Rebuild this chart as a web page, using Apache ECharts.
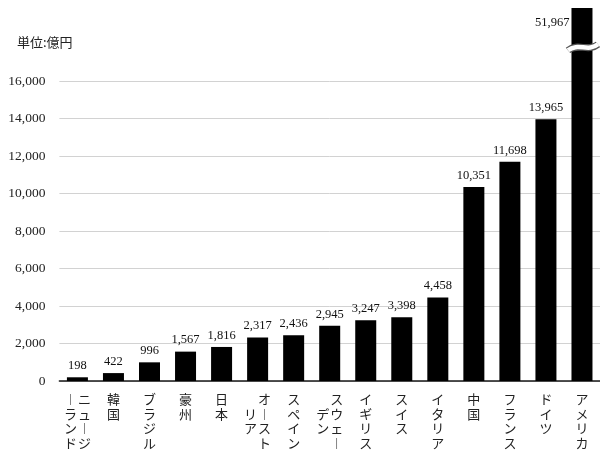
<!DOCTYPE html>
<html><head><meta charset="utf-8">
<script src="https://cdn.jsdelivr.net/npm/echarts@6/dist/echarts.min.js"></script>
<style>html,body{margin:0;padding:0;background:#fff}#c{width:600px;height:456px}</style>
</head><body><div id="c"></div>
<script>
const categories = ['ニュージーランド','韓国','ブラジル','豪州','日本','オーストリア','スペイン','スウェーデン','イギリス','スイス','イタリア','中国','フランス','ドイツ','アメリカ'];
const values = [198,422,996,1567,1816,2317,2436,2945,3247,3398,4458,10351,11698,13965,51967];
const yTicks = [0,2000,4000,6000,8000,10000,12000,14000,16000];
const unitLabel = '単位:億円';
const axisMax = 19900;
const breakValue = 17800;

const fmt = v => Number(v).toLocaleString('en-US');
const vert = ch => ch === 'ー' ? '︱' : ch;
function vertLabel(name) {
  const chars = Array.from(name).map(vert);
  if (chars.length <= 4) return chars.map(c => '{c|' + c + '}').join('\n');
  const right = chars.slice(0, 4), left = chars.slice(4);
  const off = Math.floor((4 - left.length) / 2);
  const rows = [];
  for (let r = 0; r < 4; r++) {
    const l = left[r - off];
    rows.push('{c|' + (l || '　') + '}{c|' + right[r] + '}');
  }
  return rows.join('\n');
}

const lineColors = [];
for (let i = 0; i < 11; i++) lineColors.push(i < yTicks.length ? '#d2d2d2' : 'rgba(0,0,0,0)');

const seriesData = values.map(v => {
  if (v > axisMax) {
    return { value: v, label: { position: [-2, 8], align: 'right', verticalAlign: 'top' } };
  }
  return v;
});

const chart = echarts.init(document.getElementById('c'), null, { renderer: 'canvas' });
chart.setOption({
  animation: false,
  backgroundColor: '#fff',
  title: {
    text: unitLabel, left: 12, top: 31,
    textStyle: { fontSize: 13, fontWeight: 'normal', color: '#222', fontFamily: 'Noto Sans CJK JP' }
  },
  grid: { left: 59.4, width: 543, top: 8, bottom: 75, containLabel: false },
  xAxis: {
    type: 'category', data: categories, boundaryGap: true,
    axisTick: { show: false },
    axisLine: { lineStyle: { color: '#1a1a1a', width: 1.5 } },
    axisLabel: {
      interval: 0, margin: 11, verticalAlign: 'top',
      formatter: vertLabel,
      rich: { c: { width: 14, align: 'center', fontSize: 13, lineHeight: 14.5, color: '#222', fontFamily: 'Noto Sans CJK JP' } }
    }
  },
  yAxis: {
    type: 'value', min: 0, max: axisMax, interval: 2000,
    axisLine: { show: false }, axisTick: { show: false },
    splitLine: { show: true, showMaxLine: false, lineStyle: { color: lineColors, width: 1 } },
    axisLabel: {
      margin: 14, color: '#222', fontSize: 13.5, fontFamily: 'Liberation Serif',
      formatter: v => yTicks.indexOf(v) >= 0 ? fmt(v) : ''
    }
  },
  series: [{
    type: 'bar', data: seriesData, barWidth: 21, clip: true,
    itemStyle: { color: '#000' },
    label: {
      show: true, position: 'top', distance: 5, color: '#111', fontSize: 12.5,
      fontFamily: 'Liberation Serif', formatter: p => fmt(p.value)
    }
  }]
});

const bi = values.findIndex(v => v > axisMax);
if (bi >= 0) {
  const p = chart.convertToPixel({ xAxisIndex: 0, yAxisIndex: 0 }, [bi, breakValue]);
  const x0 = p[0] - 14, x1 = p[0] + 16, y = p[1];
  const shape = { x1: x0, y1: y + 3, cpx1: x0 + 10, cpy1: y - 5, cpx2: x0 + 20, cpy2: y + 5, x2: x1, y2: y - 3 };
  chart.setOption({
    graphic: [
      { type: 'bezierCurve', shape: shape, style: { stroke: '#555', lineWidth: 7, fill: null }, z: 10 },
      { type: 'bezierCurve', shape: shape, style: { stroke: '#fff', lineWidth: 4.5, fill: null }, z: 11 }
    ]
  });
}
</script></body></html>
